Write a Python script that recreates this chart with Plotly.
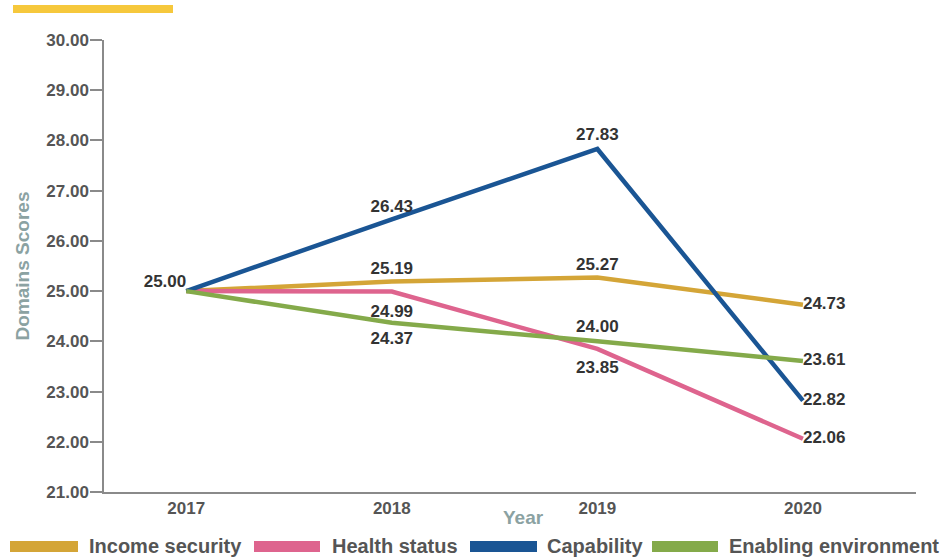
import plotly.graph_objects as go

# Domain scores by year
years = ["2017", "2018", "2019", "2020"]
income_security = [25.00, 25.19, 25.27, 24.73]
health_status = [25.00, 24.99, 23.85, 22.06]
capability = [25.00, 26.43, 27.83, 22.82]
enabling_environment = [25.00, 24.37, 24.00, 23.61]

y_ticks = [21, 22, 23, 24, 25, 26, 27, 28, 29, 30]

# label placement per point; None means the point is not labelled
series = [
    ("Income security", income_security, "#d4a537",
     [None, "top center", "top center", "middle right"], [0, 4, 4, 0]),
    ("Health status", health_status, "#de648e",
     [None, "bottom center", "bottom center", "middle right"], [0, 18, 16, 0]),
    ("Capability", capability, "#1a5594",
     ["top left", "top center", "top center", "middle right"], [0, 4, 6, 0]),
    ("Enabling environment", enabling_environment, "#84aa4a",
     [None, "bottom center", "top center", "middle right"], [0, 12, 6, 0]),
]

FONT = "Liberation Sans, Arial, sans-serif"
TITLE_COLOR = "#8ba2a2"
TEXT_COLOR = "#555555"

fig = go.Figure()
for name, vals, color, positions, gaps in series:
    # the shared 2017 starting value is labelled only once
    labels = [f"{v:.2f}" if p else "" for v, p in zip(vals, positions)]
    fig.add_trace(go.Scatter(
        x=years, y=vals, name=name, mode="lines+markers+text",
        line=dict(color=color, width=4.5),
        # invisible markers only widen the gap between point and label
        marker=dict(size=gaps, opacity=0, color=color),
        text=labels, textposition=[p or "top center" for p in positions],
        textfont=dict(family=FONT, size=17, color="#333333", weight="bold"),
        cliponaxis=False, showlegend=False,
    ))

# plot-area geometry in pixels, used to place the legend and banner
L, R, T, B = 104, 916, 40, 492
def px(x):
    return (x - L) / (R - L)
def py(y):
    return (B - y) / (B - T)

shapes = [
    # accent banner
    dict(type="rect", xref="paper", yref="paper",
         x0=px(13), x1=px(173), y0=py(13), y1=py(5),
         fillcolor="#f6c83c", line=dict(width=0)),
]
annotations = [
    # x axis title, sitting just under the year labels
    dict(xref="paper", yref="paper", x=px(523), y=py(517), text="Year",
         showarrow=False, xanchor="center", yanchor="middle",
         font=dict(family=FONT, size=19, color=TITLE_COLOR, weight="bold")),
]

# legend drawn as wide swatches with labels
legend_items = [(10, 78, 87), (254, 320, 330), (470, 537, 545), (652, 718, 727)]
for (name, _, color, _, _), (sx0, sx1, tx) in zip(series, legend_items):
    shapes.append(dict(type="rect", xref="paper", yref="paper",
                       x0=px(sx0), x1=px(sx1), y0=py(552), y1=py(541),
                       fillcolor=color, line=dict(width=0)))
    annotations.append(dict(xref="paper", yref="paper", x=px(tx), y=py(546),
                            text=name, showarrow=False, xanchor="left",
                            yanchor="middle",
                            font=dict(family=FONT, size=20, color=TEXT_COLOR,
                                      weight="bold")))

fig.update_layout(
    width=940, height=559,
    margin=dict(l=L, r=940 - R, t=T, b=559 - B, pad=0),
    paper_bgcolor="white", plot_bgcolor="white",
    font=dict(family=FONT, color=TEXT_COLOR),
    shapes=shapes, annotations=annotations,
    xaxis=dict(
        type="category", range=[-0.4, 3.55],
        showline=True, linecolor="#8a8a8a", linewidth=1.5,
        showgrid=False, zeroline=False, ticks="",
        tickfont=dict(family=FONT, size=17, color=TEXT_COLOR, weight="bold"),
    ),
    yaxis=dict(
        range=[21, 30], tickvals=y_ticks, tickformat=".2f",
        showline=True, linecolor="#8a8a8a", linewidth=1.5,
        showgrid=False, zeroline=False,
        ticks="outside", ticklen=12, tickcolor="#8a8a8a", tickwidth=1.5,
        ticklabelstandoff=-2,
        tickfont=dict(family=FONT, size=17, color=TEXT_COLOR, weight="bold"),
        title=dict(text="Domains Scores", standoff=12,
                   font=dict(family=FONT, size=19, color=TITLE_COLOR,
                             weight="bold")),
    ),
    # second axis supplies the tick stubs on the inner side of the y axis
    yaxis2=dict(
        overlaying="y", anchor="x", side="left",
        range=[21, 30], tickvals=y_ticks, showticklabels=False,
        showline=False, showgrid=False, zeroline=False,
        ticks="inside", ticklen=11, tickcolor="#8a8a8a", tickwidth=1.5,
    ),
)

fig.write_html("out.html")
